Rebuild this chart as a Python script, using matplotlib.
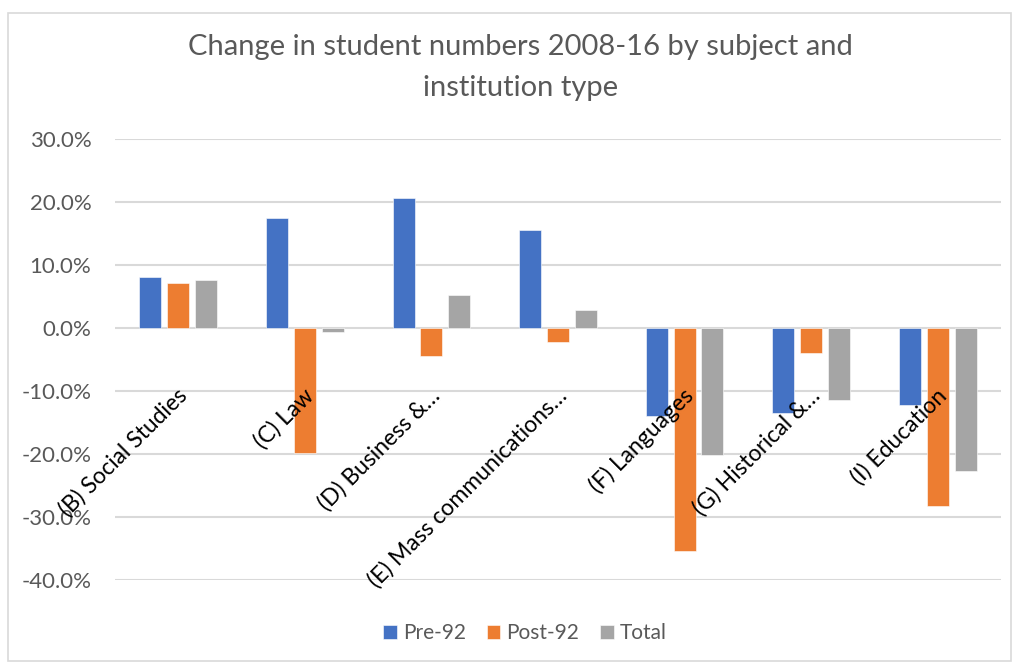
import numpy as np
import matplotlib
matplotlib.use('Agg')
import matplotlib.pyplot as plt
from matplotlib.patches import Rectangle

# --- dati ---
categories = ['(B) Social Studies', '(C) Law', '(D) Business &…',
              '(E) Mass communications…', '(F) Languages',
              '(G) Historical &…', '(I) Education']
pre_92 = [8.1, 17.4, 20.6, 15.5, -14.0, -13.5, -12.2]
post_92 = [7.1, -19.8, -4.5, -2.3, -35.4, -4.0, -28.2]
total = [7.6, -0.6, 5.2, 2.9, -20.2, -11.5, -22.7]
series_names = ['Pre-92', 'Post-92', 'Total']
colors = ['#4472C4', '#ED7D31', '#A5A5A5']
yticks = [30, 20, 10, 0, -10, -20, -30, -40]

plt.rcParams['font.family'] = ['Lato', 'DejaVu Sans']
grey = '#595959'

fig = plt.figure(figsize=(10.19, 6.66), dpi=100)
ax = fig.add_axes([115 / 1019, 86 / 666, 886 / 1019, 441 / 666])

x = np.arange(len(categories))
width = 0.174
step = 0.22
for k, (vals, name, col) in enumerate(zip([pre_92, post_92, total], series_names, colors)):
    ax.bar(x + (k - 1) * step, vals, width, color=col, label=name,
           edgecolor='white', linewidth=0.4, zorder=3)

ax.set_xlim(-0.5, len(categories) - 0.5)
ax.set_ylim(-40, 30)
ax.set_yticks(yticks)
ax.set_yticklabels([f'{v:.1f}%' for v in yticks], color=grey, fontsize=16)
ax.tick_params(axis='y', length=0, pad=17)
ax.set_xticks([])
ax.grid(axis='y', color='#D9D9D9', linewidth=1.5, zorder=0)
for s in ax.spines.values():
    s.set_visible(False)

# etichette delle categorie ruotate, vicino all'asse dello zero
for i, lab in enumerate(categories):
    ax.text(i - 0.02, -9.0, lab, rotation=45, rotation_mode='anchor', ha='right', va='top',
            fontsize=16.5, color='#000000', zorder=4)

fig.text(0.511, 1 - 47 / 666, 'Change in student numbers 2008-16 by subject and',
         ha='center', va='center', fontsize=21, color=grey)
fig.text(0.511, 1 - 88 / 666, 'institution type',
         ha='center', va='center', fontsize=21, color=grey)

leg = fig.legend(loc='center', bbox_to_anchor=(525 / 1019, 1 - 633 / 666), ncol=3,
                 frameon=False, fontsize=15, handlelength=0.65, handleheight=0.65,
                 handletextpad=0.3, columnspacing=1.0)
for t in leg.get_texts():
    t.set_color(grey)

fig.patches.append(Rectangle((8 / 1019, 5 / 666), 1003 / 1019, 648 / 666,
                             transform=fig.transFigure, fill=False,
                             edgecolor='#D9D9D9', linewidth=1.2))

fig.savefig('out.png', dpi=100)
